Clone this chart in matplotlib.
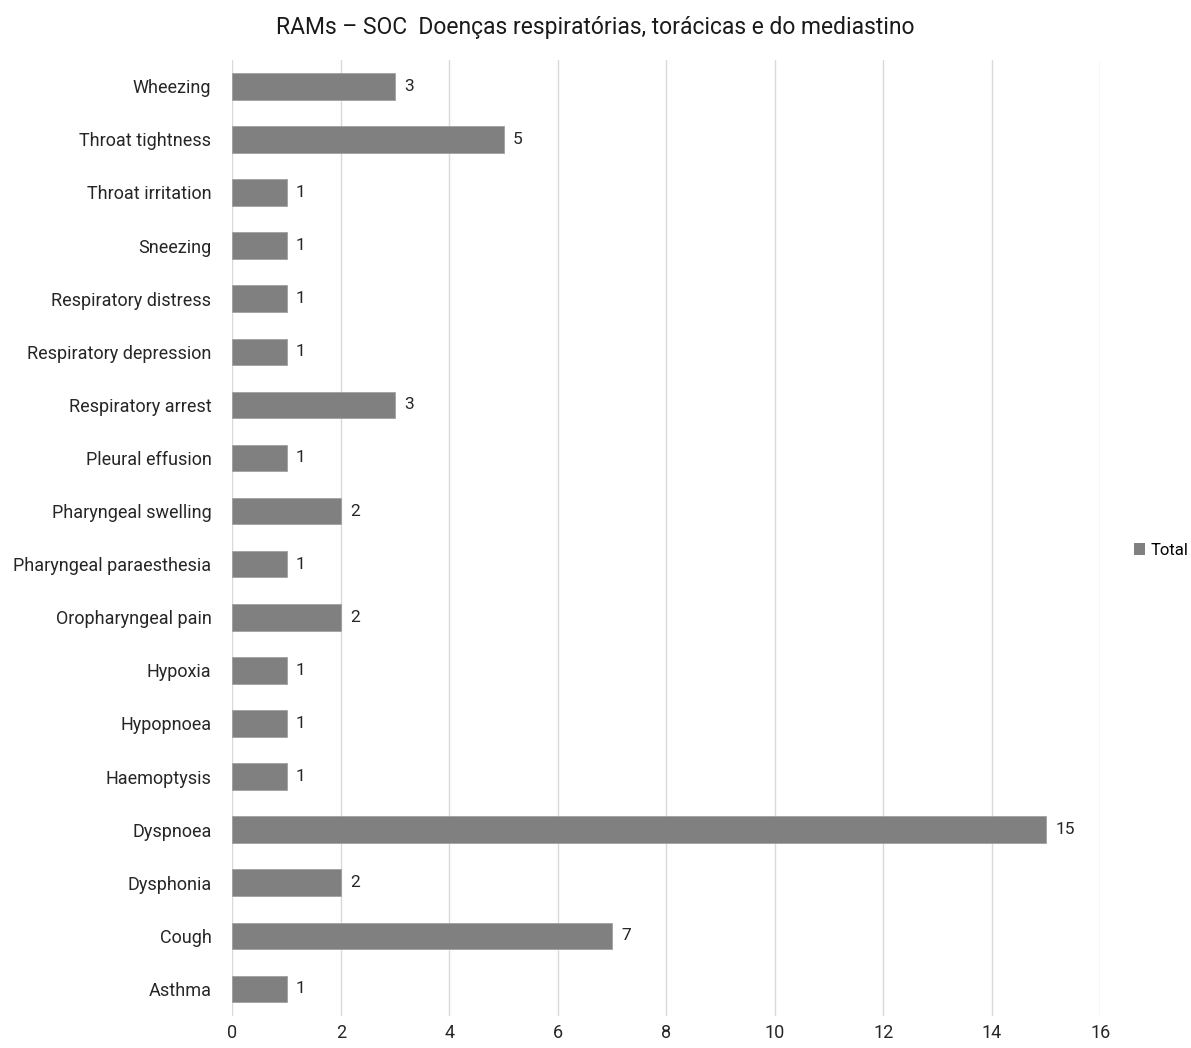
import matplotlib.pyplot as plt
from matplotlib.patches import Patch

plt.rcParams['font.family'] = ['Roboto', 'DejaVu Sans']

categorias = ['Asthma', 'Cough', 'Dysphonia', 'Dyspnoea', 'Haemoptysis',
              'Hypopnoea', 'Hypoxia', 'Oropharyngeal pain',
              'Pharyngeal paraesthesia', 'Pharyngeal swelling',
              'Pleural effusion', 'Respiratory arrest',
              'Respiratory depression', 'Respiratory distress', 'Sneezing',
              'Throat irritation', 'Throat tightness', 'Wheezing']
totales = [1, 7, 2, 15, 1, 1, 1, 2, 1, 2, 1, 3, 1, 1, 1, 1, 5, 3]
xticks = [0, 2, 4, 6, 8, 10, 12, 14, 16]

fig = plt.figure(figsize=(11.91, 10.48), dpi=100)
ax = fig.add_axes([0.195, 0.031, 0.729, 0.912])

color = '#808080'
bars = ax.barh(range(len(categorias)), totales, height=0.5, color=color,
               edgecolor='#a0a0a0', linewidth=0.6, zorder=3)
for b, v in zip(bars, totales):
    ax.text(b.get_width() + 0.17, b.get_y() + b.get_height() / 2, str(v),
            va='center', ha='left', fontsize=12.5, color='#262626')

ax.set_yticks(range(len(categorias)))
ax.set_yticklabels(categorias, fontsize=13, color='#262626')
ax.set_ylim(-0.5, len(categorias) - 0.5)
ax.set_xlim(0, 16)
ax.set_xticks(xticks)
ax.set_xticklabels([str(t) for t in xticks], fontsize=13, color='#262626')
ax.tick_params(axis='both', length=0)
ax.tick_params(axis='y', pad=15)
ax.tick_params(axis='x', pad=6)
ax.grid(axis='x', color='#d9d9d9', linewidth=1, zorder=0)
for s in ax.spines.values():
    s.set_visible(False)

fig.suptitle('RAMs – SOC  Doenças respiratórias, torácicas e do mediastino',
             fontsize=16.5, y=0.985, color='#1a1a1a')

fig.legend(handles=[Patch(facecolor=color, label='Total')],
           loc='center left', bbox_to_anchor=(0.952, 0.475), frameon=False,
           fontsize=12, handlelength=0.7, handleheight=0.7, handletextpad=0.3,
           borderaxespad=0, borderpad=0)

fig.savefig('out.png', dpi=100)
